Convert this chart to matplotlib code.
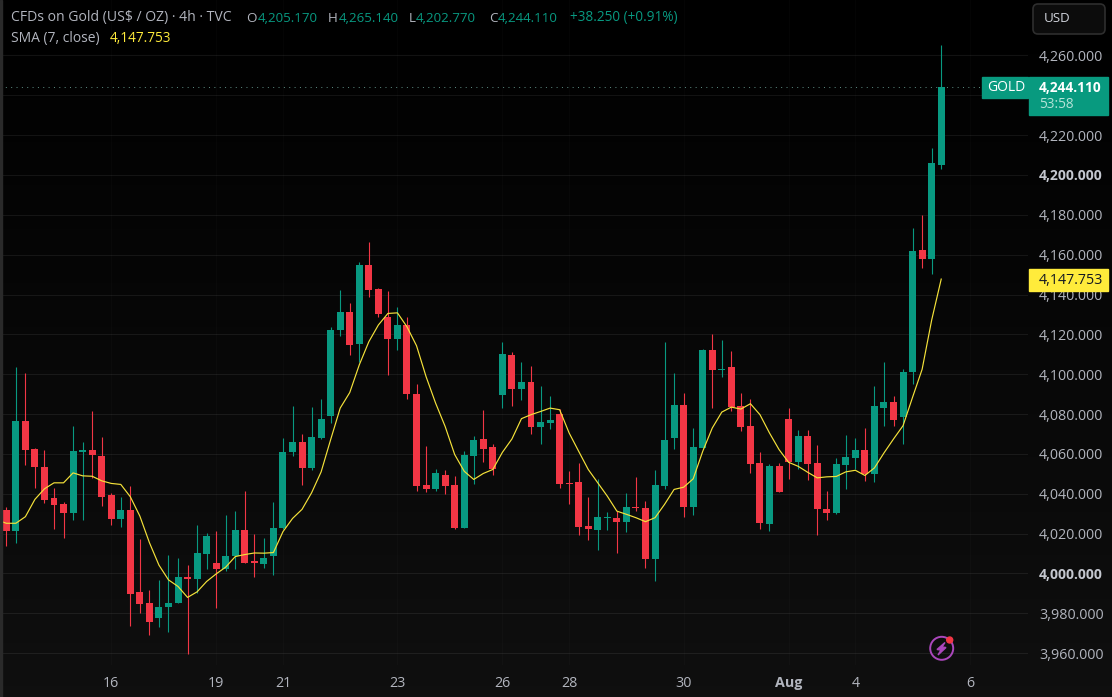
import matplotlib
matplotlib.use("Agg")
import matplotlib.pyplot as plt
from matplotlib.patches import Rectangle, FancyBboxPatch, Circle, Polygon
from matplotlib.transforms import Affine2D
import numpy as np

W, H = 1112, 697
plt.rcParams['font.family'] = ['Open Sans', 'DejaVu Sans']

# candles
opens = [4031.7, 4021.3, 4076.7, 4062.7, 4053.2, 4037.7, 4034.7, 4030.2, 4061.2, 4062.2,
         4059.2, 4039.2, 4027.2, 4031.7, 3990.7, 3985.2, 3977.7, 3983.2, 3985.2, 3998.2,
         3997.2, 4009.7, 4005.2, 4002.2, 4008.7, 4021.7, 4006.2, 4004.8, 4008.8, 4022.7,
         4061.2, 4066.2, 4052.7, 4068.2, 4079.2, 4122.2, 4131.2, 4115.2, 4154.7, 4142.7,
         4128.7, 4117.7, 4124.7, 4090.2, 4044.2, 4042.2, 4049.2, 4044.2, 4022.7, 4059.2,
         4067.7, 4063.7, 4089.7, 4109.7, 4092.7, 4096.2, 4073.7, 4075.7, 4080.2, 4045.2,
         4045.7, 4023.7, 4021.7, 4027.7, 4027.7, 4025.7, 4033.2, 4032.7, 4007.2, 4043.7,
         4068.2, 4084.7, 4033.2, 4063.2, 4112.2, 4102.2, 4103.7, 4084.2, 4074.2, 4055.2,
         4024.7, 4053.7, 4077.7, 4056.2, 4069.2, 4055.2, 4032.2, 4030.2, 4054.2, 4058.2,
         4062.2, 4049.7, 4083.2, 4086.2, 4078.7, 4101.2, 4162.2, 4157.7, 4205.17]
closes = [4021.3, 4076.7, 4062.2, 4053.2, 4036.7, 4034.2, 4030.2, 4061.7, 4062.2, 4059.7,
          4038.2, 4027.2, 4031.7, 3989.7, 3984.7, 3975.7, 3983.2, 3985.2, 3998.2, 3997.2,
          4010.2, 4018.7, 4002.2, 4008.7, 4021.7, 4005.2, 4005.2, 4007.8, 4022.9, 4061.2,
          4066.2, 4052.7, 4068.7, 4077.7, 4122.2, 4131.2, 4114.7, 4154.7, 4142.2, 4130.2,
          4117.7, 4124.7, 4090.2, 4043.7, 4042.2, 4050.2, 4043.7, 4022.7, 4059.7, 4067.2,
          4062.7, 4052.2, 4110.2, 4092.7, 4096.2, 4073.7, 4076.2, 4077.2, 4044.7, 4044.7,
          4023.2, 4022.2, 4028.2, 4028.2, 4025.7, 4033.2, 4032.7, 4007.2, 4044.2, 4067.2,
          4084.7, 4033.2, 4063.7, 4112.2, 4102.2, 4102.7, 4083.7, 4073.7, 4054.7, 4025.2,
          4053.7, 4040.7, 4056.2, 4069.2, 4054.7, 4032.2, 4030.2, 4054.7, 4058.7, 4062.2,
          4049.7, 4084.2, 4086.2, 4077.2, 4101.2, 4161.7, 4157.7, 4206.2, 4244.11]
highs = [4033.5, 4103.5, 4100.7, 4063.0, 4062.2, 4042.7, 4035.7, 4074.2, 4066.2, 4081.7,
         4068.7, 4040.2, 4038.2, 4043.7, 4017.2, 3991.7, 3996.7, 4009.2, 4007.7, 4004.2,
         4024.2, 4020.2, 4021.2, 4029.2, 4031.2, 4041.2, 4019.7, 4017.9, 4035.9, 4068.2,
         4084.2, 4070.2, 4083.7, 4087.7, 4123.7, 4142.2, 4135.7, 4156.2, 4166.2, 4143.2,
         4141.7, 4133.7, 4128.7, 4095.2, 4064.2, 4052.2, 4051.7, 4048.7, 4061.7, 4069.2,
         4082.2, 4065.2, 4116.2, 4111.2, 4106.2, 4104.2, 4094.2, 4089.2, 4082.7, 4051.2,
         4055.2, 4038.2, 4047.2, 4030.7, 4031.2, 4040.2, 4048.2, 4036.2, 4051.7, 4116.2,
         4100.7, 4090.7, 4073.2, 4112.7, 4120.2, 4117.2, 4111.7, 4090.7, 4087.7, 4061.2,
         4054.7, 4055.7, 4083.2, 4072.2, 4072.2, 4064.7, 4041.2, 4058.2, 4069.7, 4068.2,
         4073.2, 4094.2, 4106.2, 4089.2, 4102.7, 4173.2, 4179.7, 4213.7, 4265.14]
lows = [4013.8, 4015.2, 4054.2, 4042.7, 4035.2, 4022.2, 4017.7, 4026.7, 4026.7, 4048.0,
        4033.7, 4024.2, 4023.2, 3973.7, 3980.2, 3969.2, 3973.2, 3970.7, 3985.2, 3959.7,
        3990.2, 4002.2, 3982.7, 4001.2, 4002.2, 4005.2, 3998.2, 4002.8, 3999.3, 4022.2,
        4059.2, 4044.2, 4051.7, 4067.7, 4075.7, 4119.2, 4109.7, 4106.0, 4138.7, 4128.7,
        4099.7, 4112.2, 4087.7, 4041.2, 4040.7, 4041.2, 4039.7, 4022.2, 4022.7, 4044.7,
        4056.2, 4049.2, 4083.2, 4084.2, 4087.2, 4070.2, 4065.2, 4072.7, 4042.7, 4034.7,
        4019.2, 4016.7, 4011.7, 4021.7, 4010.2, 4020.7, 4031.2, 4002.7, 3996.2, 4042.2,
        4062.7, 4028.2, 4029.2, 4063.2, 4083.2, 4098.7, 4081.7, 4071.7, 4050.2, 4022.2,
        4021.2, 4040.7, 4047.2, 4052.2, 4046.7, 4019.2, 4026.7, 4029.7, 4042.2, 4052.2,
        4046.2, 4045.7, 4074.2, 4074.2, 4065.2, 4095.2, 4153.2, 4150.2, 4202.77]

# yellow line read separately, it starts one bar left of the window
sma_values = [4027.0, 4025.2, 4025.2, 4028.5, 4037.2, 4042.5, 4045.5, 4045.5, 4050.5, 4049.0, 4048.8,
              4046.5, 4045.2, 4044.7, 4038.5, 4028.8, 4015.5, 4004.2, 3996.8, 3993.5, 3988.0,
              3990.8, 3996.0, 3999.8, 4003.2, 4008.5, 4009.5, 4010.3, 4010.2, 4010.5, 4021.0,
              4027.6, 4032.2, 4040.5, 4051.0, 4067.2, 4083.0, 4090.8, 4104.7, 4116.3, 4124.7,
              4130.5, 4130.8, 4123.8, 4114.3, 4098.8, 4085.5, 4073.8, 4059.7, 4051.3, 4047.2,
              4050.2, 4052.2, 4060.8, 4067.5, 4077.7, 4079.7, 4081.3, 4083.0, 4082.2, 4070.5,
              4061.3, 4052.2, 4045.5, 4038.8, 4031.3, 4029.7, 4028.0, 4026.0, 4028.0, 4034.7,
              4042.2, 4043.3, 4047.5, 4061.3, 4073.0, 4081.0, 4083.5, 4082.5, 4085.2, 4079.7,
              4070.5, 4062.2, 4055.8, 4053.8, 4050.8, 4048.0, 4048.5, 4048.7, 4051.0, 4051.8,
              4049.2, 4053.0, 4060.5, 4067.5, 4074.2, 4088.5, 4102.5, 4127.2, 4147.753]

price_ticks = list(range(3960, 4261, 20))
date_labels = ['16', '19', '21', '23', '26', '28', '30', 'Aug', '4', '6']
date_bars = [11, 22, 29, 41, 52, 59, 71, 82, 89, 101]

last_close = 4244.110
last_sma = 4147.753
countdown = '53:58'

UP = '#089981'
DOWN = '#F23645'
YELLOW = '#FFEB3B'
MUTED = '#B2B5BE'

fig = plt.figure(figsize=(W / 100, H / 100), dpi=100, facecolor='black')
# pixel coords, y going down
pt = Affine2D().scale(1, -1).translate(0, H)

# background runs black to dark grey
bg = fig.add_axes([0, 0, 1, 1], zorder=-2)
bg.imshow(np.linspace(0, 15, 64).reshape(-1, 1), aspect='auto', cmap='gray', vmin=0, vmax=255)
bg.axis('off')

left, right, bottom = 0, 1028, 665
ax = fig.add_axes([left / W, (H - bottom) / H, (right - left) / W, bottom / H])
ax.patch.set_alpha(0)
px_per_bar = 9.54
px_per_usd = 1.9927
ax.set_xlim(-6.3 / px_per_bar, (right - 6.3) / px_per_bar)
ax.set_ylim(3960 - (665 - 653.2) / px_per_usd, 4260 + 55.4 / px_per_usd)

idx = np.arange(len(opens))
o = np.array(opens)
c = np.array(closes)
colors = [UP if cl >= op else DOWN for op, cl in zip(opens, closes)]
ax.vlines(idx, lows, highs, colors=colors, linewidth=0.8, zorder=3)
ax.bar(idx, np.abs(c - o), bottom=np.minimum(o, c), width=0.73, color=colors, linewidth=0, zorder=3)
ax.plot(np.arange(len(sma_values)) - 1, sma_values, color='#F5E23A', linewidth=0.85, zorder=4)
ax.axhline(last_close, color='#5f8f85', linewidth=0.7, linestyle=(0, (1, 4.5)), zorder=2)

ax.set_yticks(price_ticks)
# 4,240 sits under the last price tag, so its label never shows
ax.set_yticklabels(['' if p == 4240 else f'{p:,.3f}' for p in price_ticks])
ax.yaxis.tick_right()
ax.tick_params(axis='y', length=0, pad=8, labelsize=10.3, labelcolor=MUTED)
ax.set_xticks(date_bars)
ax.set_xticklabels(date_labels)
ax.tick_params(axis='x', length=0, pad=8, labelsize=10.3, labelcolor=MUTED)
for lab in ax.get_xticklabels():
    if lab.get_text() == 'Aug':
        lab.set_fontweight('bold')
for lab in ax.get_yticklabels():
    if lab.get_text() in ('4,200.000', '4,000.000'):
        lab.set_fontweight('bold')
        lab.set_fontsize(10)
        lab.set_color('#C4C7CF')
ax.grid(axis='y', color='white', alpha=0.07, linewidth=0.8, zorder=0)
ax.grid(axis='x', color='white', alpha=0.02, linewidth=0.8, zorder=0)
for s in ax.spines.values():
    s.set_visible(False)


def price_y(p):
    return H - ax.transData.transform((0, p))[1]


def label(x, y, s, color=MUTED, size=10.3, **kw):
    fig.text(x, y, s, color=color, fontsize=size, transform=pt, va='center', zorder=6, **kw)


# left edge strip
fig.add_artist(Rectangle((0, 0), 2, H, transform=pt, color='#2a2a2a', zorder=5))

# header
label(11, 18, 'CFDs on Gold (US$ / OZ) · 4h · TVC', size=10.1)
label(246, 18, 'O', size=9.6)
label(258, 18, '4,205.170', UP, 9.6)
label(328, 18, 'H', size=9.6)
label(339, 18, '4,265.140', UP, 9.6)
label(409, 18, 'L', size=9.6)
label(416, 18, '4,202.770', UP, 9.6)
label(489, 18, 'C', size=9.6)
label(498, 18, f'{last_close:,.3f}', UP, 9.6)
label(570, 18, '+38.250 (+0.91%)', UP, 9.8)
label(11, 38.5, 'SMA (7, close)', size=10)
label(110, 38.5, f'{last_sma:,.3f}', YELLOW, 9.8, fontweight='medium')

# USD button
fig.add_artist(FancyBboxPatch((1033, 4), 72, 30, boxstyle='round,pad=0,rounding_size=5', transform=pt,
                              facecolor='#0c0c0c', edgecolor='#2e2e2e', linewidth=1.2, zorder=5))
label(1044, 19, 'USD', '#D1D4DC', 9.6)

# price tags
y_last = price_y(last_close)
fig.add_artist(Rectangle((982, y_last - 10.5), 46, 21, transform=pt, color='#089A7F', zorder=5))
label(987, y_last + 0.5, 'GOLD', 'white', 10)
fig.add_artist(Rectangle((1029, y_last - 10.5), 79, 38, transform=pt, color='#089A7F', zorder=5))
label(1039, y_last + 0.5, f'{last_close:,.3f}', 'white', 9.8, fontweight='bold')
label(1039, y_last + 17.5, countdown, '#B5E3D8', 9.8)
y_sma = price_y(last_sma)
fig.add_artist(Rectangle((1029, y_sma - 10.5), 79, 22, transform=pt, color='#FFEB3B', zorder=5))
label(1039, y_sma + 1, f'{last_sma:,.3f}', '#131722', 10.3)

# lightning badge
fig.add_artist(Circle((941.7, 648.3), 11.5, transform=pt, facecolor='none', edgecolor='#AB47BC', linewidth=1.4, zorder=5))
fig.add_artist(Polygon([(945, 642.5), (937, 649.5), (941, 650), (938, 655), (946, 647.5), (942, 647)],
                       transform=pt, color='#AB47BC', zorder=5))
fig.add_artist(Circle((949.7, 640), 3, transform=pt, color='#F23645', zorder=6))

fig.savefig('out.png', dpi=100, facecolor='black')
